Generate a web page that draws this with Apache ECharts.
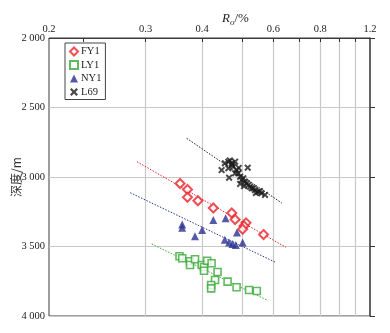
<!DOCTYPE html>
<html>
<head>
<meta charset="utf-8">
<script src="https://cdn.jsdelivr.net/npm/echarts@6/dist/echarts.min.js"></script>
<style>
html,body{margin:0;padding:0;background:#fff;}
#chart{width:390px;height:333px;}
</style>
</head>
<body>
<div id="chart"></div>
<script>
// ---- Data (Ro in %, depth in m) ----
const fy1Ro    = [0.356, 0.370, 0.370, 0.391, 0.425, 0.471, 0.480, 0.511, 0.505, 0.501, 0.566];
const fy1Depth = [3047, 3090, 3146, 3171, 3223, 3259, 3306, 3330, 3352, 3376, 3414];

const ly1Ro    = [0.355, 0.360, 0.375, 0.375, 0.385, 0.399, 0.404, 0.404, 0.411, 0.421, 0.435, 0.429, 0.420, 0.420, 0.460, 0.484, 0.520, 0.544];
const ly1Depth = [3570, 3585, 3606, 3633, 3592, 3633, 3647, 3674, 3602, 3621, 3683, 3741, 3777, 3801, 3753, 3793, 3813, 3820];

const ny1Ro    = [0.360, 0.360, 0.385, 0.400, 0.425, 0.455, 0.485, 0.453, 0.464, 0.473, 0.482, 0.501];
const ny1Depth = [3342, 3366, 3427, 3381, 3309, 3297, 3399, 3451, 3471, 3482, 3489, 3471];

const l69Ro    = [0.445, 0.453, 0.462, 0.471, 0.480, 0.462, 0.475, 0.516, 0.464, 0.480, 0.489, 0.494, 0.498, 0.503, 0.508, 0.513, 0.518, 0.523, 0.528, 0.533, 0.538, 0.548, 0.554, 0.559, 0.571, 0.484, 0.472, 0.494, 0.505, 0.541, 0.466, 0.490];
const l69Depth = [2950, 2901, 2890, 2901, 2890, 2937, 2926, 2933, 3005, 2973, 2973, 2998, 3022, 3009, 3034, 3045, 3058, 3070, 3081, 3081, 3094, 3106, 3101, 3117, 3129, 2950, 2914, 3050, 3065, 3115, 2881, 2935];

// trend lines: [start, end]
const fy1TrendRo = [0.288, 0.647], fy1TrendDepth = [2890, 3506];
const ny1TrendRo = [0.279, 0.608], ny1TrendDepth = [3113, 3614];
const l69TrendRo = [0.3685, 0.631], l69TrendDepth = [2722, 3187];
const ly1TrendRo = [0.309, 0.577], ly1TrendDepth = [3482, 3885];

// axis ticks
const xTickValues = [0.2, 0.3, 0.4, 0.6, 0.8, 1.1];
const xTickLabels = ['0.2', '0.3', '0.4', '0.6', '0.8', '1.2'];
const xGridValues = [0.3, 0.4, 0.5, 0.6, 0.7, 0.8, 0.9, 1.0];
const xMinorTick  = [0.2276];
const yTickValues = [2000, 2500, 3000, 3500, 4000];

// ---- axis transform (log of Ro offset) ----
const RO_OFFSET = 0.1;
const tx = ro => Math.log10(ro - RO_OFFSET);
const pts = (ro, d) => ro.map((r, i) => [tx(r), d[i]]);

const SERIF = "'Liberation Serif','DejaVu Serif',serif";
const C = { fy1: '#e8232b', ly1: '#3aa93a', ny1: '#2a3192', l69: '#1b1b1b' };
const X_PATH = 'path://M2,0 L5,3 L8,0 L10,2 L7,5 L10,8 L8,10 L5,7 L2,10 L0,8 L3,5 L0,2 Z';

const chart = echarts.init(document.getElementById('chart'), null, { renderer: 'canvas' });

function trend(name, ro, d, color) {
  return {
    name: name, type: 'line', data: pts(ro, d), symbol: 'none', silent: true,
    lineStyle: { color: color, width: 1, type: [1.5, 1.5] }, z: 1, animation: false
  };
}

const option = {
  animation: false,
  backgroundColor: '#fff',
  grid: { left: 49, right: 20, top: 38, bottom: 17, show: true, borderColor: '#3a3a3a', borderWidth: 1 },
  xAxis: [{
    type: 'value', position: 'top', min: tx(0.2), max: tx(1.1),
    name: '{r|R}{s|o}{n|/%}', nameLocation: 'middle', nameGap: 11, nameMoveOverlap: false,
    nameTextStyle: {
      padding: [0, 0, 0, 52],
      rich: {
        r: { fontFamily: SERIF, fontStyle: 'italic', fontSize: 13, color: '#222' },
        s: { fontFamily: SERIF, fontStyle: 'italic', fontSize: 9, color: '#222', padding: [8, 0, 0, 0] },
        n: { fontFamily: SERIF, fontSize: 13, color: '#222' }
      }
    },
    axisLine: { show: true, lineStyle: { color: '#3a3a3a', width: 1 } },
    axisTick: { show: true, inside: true, length: 4, lineStyle: { color: '#333' }, customValues: xGridValues.map(tx) },
    axisLabel: {
      customValues: xTickValues.map(tx), showMinLabel: true, showMaxLabel: true,
      margin: 3, fontFamily: SERIF, fontSize: 10.5, color: '#222',
      formatter: v => {
        let best = 0, bd = 1e9;
        xTickValues.forEach((t, i) => { const dd = Math.abs(tx(t) - v); if (dd < bd) { bd = dd; best = i; } });
        return xTickLabels[best];
      }
    },
    splitLine: { show: true, lineStyle: { color: '#c8c8c8', width: 1.2 } }
  }, {
    type: 'value', position: 'top', min: tx(0.2), max: tx(1.1),
    axisLine: { show: false },
    axisTick: { show: true, inside: true, length: 4, lineStyle: { color: '#333' }, customValues: xMinorTick.map(tx) },
    axisLabel: { show: false },
    splitLine: { show: false }
  }],
  yAxis: {
    type: 'value', inverse: true, min: 2000, max: 4000, interval: 500,
    name: '深度/m', nameLocation: 'middle', nameGap: 27, nameRotate: 90, nameMoveOverlap: false,
    nameTextStyle: { fontFamily: "'Noto Sans CJK SC',sans-serif", fontSize: 12, color: '#333' },
    axisLine: { show: true, lineStyle: { color: '#555', width: 1.6 } },
    axisTick: { show: true, inside: true, length: 5, lineStyle: { color: '#333' } },
    axisLabel: {
      margin: 4, fontFamily: SERIF, fontSize: 10.5, color: '#222',
      formatter: v => { const s = String(v); return s.slice(0, s.length - 3) + ' ' + s.slice(-3); }
    },
    splitLine: { show: true, lineStyle: { color: '#c8c8c8', width: 1.2 } }
  },
  legend: {
    orient: 'vertical', left: 65, top: 43,
    data: ['FY1', 'LY1', 'NY1', 'L69'],
    backgroundColor: '#fff', borderColor: '#444', borderWidth: 1, borderRadius: 0,
    padding: [3, 4, 2, 4], itemGap: 2.5, itemWidth: 8, itemHeight: 8,
    textStyle: { fontFamily: SERIF, fontSize: 10.5, color: '#222', padding: [0, 0, 0, -2] }
  },
  series: [
    trend('FY1趋势', fy1TrendRo, fy1TrendDepth, C.fy1),
    trend('NY1趋势', ny1TrendRo, ny1TrendDepth, C.ny1),
    trend('L69趋势', l69TrendRo, l69TrendDepth, C.l69),
    trend('LY1趋势', ly1TrendRo, ly1TrendDepth, C.ly1),
    {
      name: 'FY1', type: 'scatter', data: pts(fy1Ro, fy1Depth), symbol: 'diamond', symbolSize: 9,
      itemStyle: { color: '#fff', borderColor: C.fy1, borderWidth: 2 }, z: 3
    },
    {
      name: 'LY1', type: 'scatter', data: pts(ly1Ro, ly1Depth), symbol: 'rect', symbolSize: 7,
      itemStyle: { color: '#fff', borderColor: C.ly1, borderWidth: 1.6 }, z: 3
    },
    {
      name: 'NY1', type: 'scatter', data: pts(ny1Ro, ny1Depth), symbol: 'triangle', symbolSize: 8,
      itemStyle: { color: C.ny1 }, z: 3
    },
    {
      name: 'L69', type: 'scatter', data: pts(l69Ro, l69Depth), symbol: X_PATH, symbolSize: 7,
      itemStyle: { color: C.l69 }, z: 3
    }
  ]
};
chart.setOption(option);
</script>
</body>
</html>
